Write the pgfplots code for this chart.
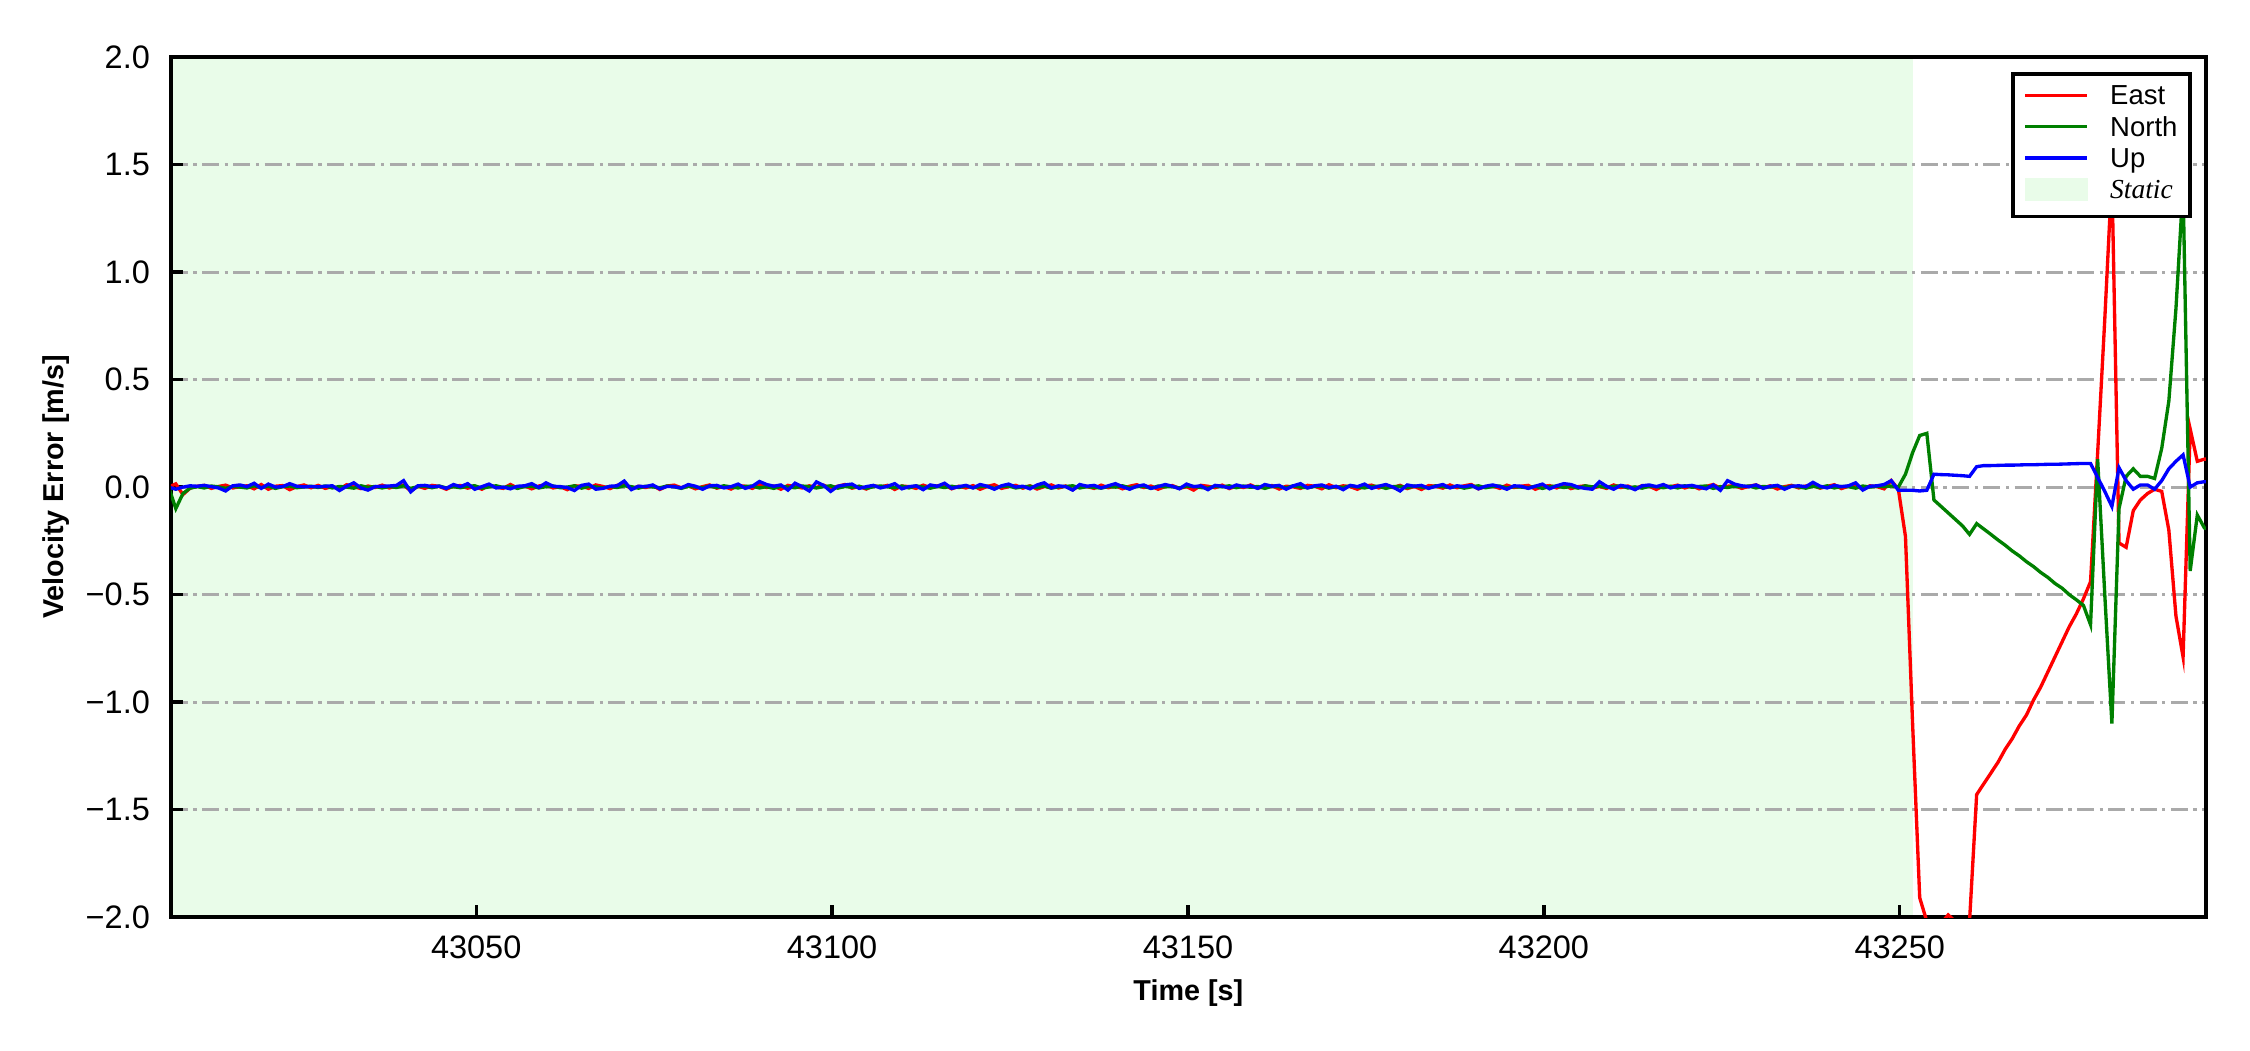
\documentclass[border=0pt]{standalone}
\usepackage{fontspec}
\setmainfont{Liberation Sans}
\newfontfamily\timesfont{Liberation Serif}
\usepackage{pgfplots}
\pgfplotsset{compat=1.18}
\usepackage{pgfplotstable}
\definecolor{staticgreen}{RGB}{233,252,233}
\definecolor{gridgray}{RGB}{170,170,170}
\definecolor{mplgreen}{RGB}{0,128,0}

\pgfplotstableread{
t E N U
43006.8 0.000 0.000 0.000
43007.8 0.015 -0.100 -0.010
43008.8 -0.035 -0.030 0.000
43009.8 -0.005 -0.005 0.006
43010.8 0.004 0.002 0.004
43011.8 0.008 -0.004 0.008
43012.8 -0.006 0.005 0.002
43013.8 0.003 0.001 -0.004
43014.8 0.009 -0.006 -0.018
43015.8 -0.004 0.003 0.006
43016.8 0.002 0.000 0.010
43017.8 0.006 -0.004 0.002
43018.8 -0.008 0.006 0.018
43019.8 0.012 -0.002 -0.006
43020.8 -0.010 0.004 0.014
43021.8 0.004 -0.006 0.000
43022.8 0.007 0.002 0.002
43023.8 -0.012 0.005 0.016
43024.8 0.002 -0.003 0.004
43025.8 0.010 0.001 0.001
43026.8 -0.003 0.004 0.003
43027.8 0.008 -0.002 0.001
43028.8 -0.006 0.005 0.004
43029.8 0.003 -0.004 0.006
43030.8 -0.009 0.003 -0.016
43031.8 0.011 0.000 0.004
43032.8 0.002 -0.005 0.020
43033.8 -0.007 0.006 -0.004
43034.8 0.005 -0.001 -0.014
43035.8 -0.002 0.003 0.002
43036.8 0.009 -0.004 0.004
43037.8 -0.004 0.003 0.005
43038.8 0.006 -0.002 0.008
43039.8 0.010 0.006 0.030
43040.8 -0.018 -0.006 -0.022
43041.8 0.004 0.002 0.006
43042.8 -0.006 0.004 0.008
43043.8 0.008 -0.003 0.002
43044.8 0.003 0.005 0.004
43045.8 -0.010 -0.004 -0.006
43046.8 0.005 0.002 0.012
43047.8 0.007 -0.003 0.002
43048.8 -0.005 0.004 0.016
43049.8 0.004 0.006 -0.010
43050.8 -0.010 -0.005 0.002
43051.8 0.009 0.001 0.014
43052.8 0.000 0.006 -0.004
43053.8 -0.006 -0.002 0.000
43054.8 0.012 0.004 -0.008
43055.8 -0.004 -0.006 0.004
43056.8 0.006 0.003 0.006
43057.8 -0.008 0.004 0.016
43058.8 0.005 -0.004 -0.002
43059.8 0.011 0.002 0.020
43060.8 -0.004 0.005 0.004
43061.8 0.002 -0.003 0.002
43062.8 -0.012 0.000 -0.002
43063.8 0.006 0.006 -0.016
43064.8 0.004 -0.005 0.008
43065.8 -0.006 0.003 0.014
43066.8 0.010 0.001 -0.010
43067.8 0.003 -0.004 -0.006
43068.8 -0.007 0.003 0.004
43069.8 0.008 -0.002 0.006
43070.8 0.014 0.006 0.028
43071.8 -0.009 0.002 -0.012
43072.8 0.004 -0.005 0.004
43073.8 -0.002 0.004 0.002
43074.8 0.007 0.001 0.010
43075.8 -0.011 -0.003 -0.008
43076.8 0.005 0.005 0.003
43077.8 0.009 0.002 0.002
43078.8 -0.003 -0.006 -0.004
43079.8 0.006 0.004 0.012
43080.8 -0.008 0.000 0.004
43081.8 0.002 -0.003 -0.010
43082.8 0.010 0.005 0.006
43083.8 -0.005 -0.002 0.008
43084.8 0.003 0.006 -0.004
43085.8 -0.009 0.001 0.002
43086.8 0.007 -0.004 0.014
43087.8 0.004 0.003 -0.006
43088.8 -0.006 0.005 0.004
43089.8 0.011 -0.004 0.026
43090.8 -0.002 0.002 0.012
43091.8 0.005 -0.006 0.004
43092.8 -0.010 0.004 0.010
43093.8 0.008 0.000 -0.014
43094.8 0.002 -0.003 0.018
43095.8 -0.004 0.005 0.002
43096.8 0.006 0.002 -0.018
43097.8 -0.002 -0.004 0.024
43098.8 0.009 0.002 0.008
43099.8 -0.007 0.006 -0.020
43100.8 0.004 -0.005 0.004
43101.8 0.012 0.003 0.010
43102.8 -0.005 -0.001 0.014
43103.8 0.003 0.004 -0.006
43104.8 -0.009 -0.006 0.002
43105.8 0.006 0.002 0.008
43106.8 0.001 0.005 -0.004
43107.8 0.008 0.001 0.004
43108.8 -0.011 -0.003 0.016
43109.8 0.005 0.005 -0.008
43110.8 0.002 -0.004 0.002
43111.8 -0.006 0.006 0.006
43112.8 0.009 0.000 -0.012
43113.8 -0.003 -0.005 0.010
43114.8 0.006 0.003 0.004
43115.8 0.010 -0.002 0.018
43116.8 -0.008 0.004 -0.006
43117.8 0.004 -0.002 0.002
43118.8 -0.004 0.006 0.008
43119.8 0.007 -0.003 -0.004
43120.8 -0.010 0.002 0.012
43121.8 0.003 0.004 0.004
43122.8 0.011 -0.006 -0.010
43123.8 -0.006 0.003 0.006
43124.8 0.002 0.005 0.014
43125.8 0.008 -0.004 0.000
43126.8 -0.005 0.001 0.004
43127.8 0.006 0.004 -0.008
43128.8 -0.009 -0.002 0.010
43129.8 0.002 0.005 0.020
43130.8 0.010 -0.005 -0.004
43131.8 -0.004 0.001 0.006
43132.8 0.005 0.003 0.002
43133.8 -0.012 0.006 -0.014
43134.8 0.007 -0.004 0.012
43135.8 0.003 0.002 0.004
43136.8 -0.006 -0.001 0.008
43137.8 0.009 -0.005 -0.004
43138.8 -0.003 0.003 0.006
43139.8 0.006 0.000 0.016
43140.8 -0.008 0.006 0.002
43141.8 0.004 -0.003 -0.010
43142.8 0.011 0.002 0.004
43143.8 -0.002 0.004 0.010
43144.8 0.005 -0.006 -0.006
43145.8 -0.010 0.005 0.002
43146.8 0.003 0.001 0.012
43147.8 0.007 0.002 0.004
43148.8 -0.006 -0.004 -0.008
43149.8 0.002 0.005 0.014
43150.8 -0.014 0.003 0.002
43151.8 0.008 -0.002 0.006
43152.8 0.004 -0.005 -0.012
43153.8 -0.003 0.004 0.008
43154.8 0.009 0.001 0.004
43155.8 -0.007 0.006 -0.004
43156.8 0.005 -0.003 0.010
43157.8 -0.002 0.005 0.002
43158.8 0.010 -0.001 0.006
43159.8 -0.005 0.003 -0.006
43160.8 0.003 -0.006 0.012
43161.8 0.007 0.004 0.004
43162.8 -0.009 0.002 0.008
43163.8 0.004 -0.004 -0.010
43164.8 0.001 0.006 0.006
43165.8 -0.006 0.000 0.016
43166.8 0.008 -0.003 -0.004
43167.8 0.004 0.003 0.006
43168.8 -0.008 0.005 0.010
43169.8 0.011 -0.005 -0.002
43170.8 -0.003 0.002 0.004
43171.8 0.006 -0.002 -0.012
43172.8 0.002 0.006 0.008
43173.8 -0.010 0.001 0.002
43174.8 0.005 -0.004 0.014
43175.8 0.009 0.003 -0.006
43176.8 -0.004 0.004 0.004
43177.8 0.006 -0.006 0.012
43178.8 -0.002 0.002 0.000
43179.8 0.008 0.004 -0.018
43180.8 -0.007 -0.003 0.010
43181.8 0.003 0.005 0.004
43182.8 -0.011 0.000 0.008
43183.8 0.007 -0.004 -0.006
43184.8 0.004 0.006 0.004
43185.8 -0.005 0.002 0.012
43186.8 0.010 -0.002 -0.004
43187.8 -0.003 0.004 0.006
43188.8 0.006 -0.005 0.002
43189.8 0.012 0.001 0.008
43190.8 -0.008 0.006 -0.008
43191.8 0.002 -0.003 0.004
43192.8 0.005 0.003 0.010
43193.8 -0.006 0.005 0.002
43194.8 0.009 -0.004 -0.010
43195.8 -0.002 0.002 0.006
43196.8 0.004 0.000 0.004
43197.8 0.008 -0.003 -0.006
43198.8 -0.010 0.004 0.004
43199.8 0.003 -0.006 0.014
43200.8 0.007 0.002 -0.008
43201.8 -0.004 0.005 0.006
43202.8 0.011 -0.002 0.016
43203.8 -0.007 0.003 0.012
43204.8 0.002 -0.005 0.000
43205.8 0.006 0.006 -0.006
43206.8 -0.005 0.001 -0.010
43207.8 0.003 0.005 0.025
43208.8 -0.006 -0.002 0.004
43209.8 0.010 0.003 -0.010
43210.8 -0.002 0.006 0.008
43211.8 0.005 -0.004 0.002
43212.8 -0.009 0.001 -0.012
43213.8 0.007 -0.005 0.006
43214.8 0.004 0.004 0.010
43215.8 -0.011 0.002 0.002
43216.8 0.006 -0.003 0.012
43217.8 0.002 0.004 -0.004
43218.8 0.009 -0.004 0.006
43219.8 -0.004 0.006 0.004
43220.8 0.006 -0.001 0.008
43221.8 -0.008 0.003 0.000
43222.8 0.003 0.005 -0.008
43223.8 0.012 -0.006 0.010
43224.8 -0.005 0.002 -0.015
43225.8 0.004 -0.002 0.030
43226.8 0.007 0.004 0.014
43227.8 -0.006 0.002 0.006
43228.8 0.004 0.005 0.002
43229.8 0.010 -0.004 0.010
43230.8 -0.003 0.003 -0.006
43231.8 0.006 0.000 0.004
43232.8 -0.009 0.006 0.008
43233.8 0.002 -0.003 -0.010
43234.8 0.008 0.004 0.004
43235.8 -0.004 0.001 0.006
43236.8 0.005 -0.005 0.002
43237.8 0.007 0.004 0.022
43238.8 -0.005 -0.002 0.004
43239.8 0.003 0.006 -0.004
43240.8 0.011 -0.004 0.008
43241.8 -0.007 0.003 0.002
43242.8 0.004 0.002 0.006
43243.8 0.009 -0.005 0.020
43244.8 -0.010 0.005 -0.014
43245.8 0.006 0.000 0.004
43246.8 0.002 0.004 0.006
43247.8 -0.008 0.002 0.012
43248.8 0.030 0.005 0.030
43249.8 -0.010 0.000 -0.015
43250.8 -0.23 0.06 -0.015
43251.8 -1.10 0.16 -0.015
43252.8 -1.91 0.24 -0.018
43253.8 -2.02 0.25 -0.015
43254.8 -2.04 -0.06 0.060
43255.8 -2.03 -0.09 0.058
43256.8 -1.99 -0.12 0.057
43257.8 -2.02 -0.15 0.055
43258.8 -2.05 -0.18 0.053
43259.8 -2.02 -0.22 0.050
43260.8 -1.43 -0.17 0.095
43261.8 -1.38 -0.195 0.100
43262.8 -1.33 -0.22 0.100
43263.8 -1.28 -0.246 0.101
43264.8 -1.22 -0.27 0.102
43265.8 -1.17 -0.297 0.102
43266.8 -1.11 -0.32 0.103
43267.8 -1.06 -0.347 0.104
43268.8 -0.99 -0.37 0.104
43269.8 -0.93 -0.397 0.105
43270.8 -0.86 -0.42 0.106
43271.8 -0.79 -0.448 0.106
43272.8 -0.72 -0.47 0.107
43273.8 -0.65 -0.50 0.108
43274.8 -0.59 -0.524 0.109
43275.8 -0.52 -0.55 0.110
43276.8 -0.44 -0.64 0.110
43277.8 0.16 0.13 0.045
43278.8 0.78 -0.50 -0.020
43279.8 1.45 -1.10 -0.090
43280.8 -0.26 -0.10 0.090
43281.8 -0.28 0.05 0.030
43282.8 -0.11 0.085 -0.010
43283.8 -0.06 0.05 0.010
43284.8 -0.03 0.05 0.010
43285.8 -0.01 0.04 -0.010
43286.8 -0.02 0.18 0.030
43287.8 -0.20 0.40 0.085
43288.8 -0.60 0.83 0.120
43289.8 -0.79 1.40 0.150
43290.8 0.27 -0.39 0.000
43291.8 0.12 -0.13 0.020
43292.8 0.13 -0.19 0.025
43293.8 0.13 -0.20 0.025
}\veldata

\begin{document}
\begin{tikzpicture}
\begin{axis}[
  set layers,
  at={(0,0)}, anchor=south west,
  scale only axis, width=488.4pt, height=206.4pt,
  xmin=43007.1, xmax=43293.0, ymin=-2, ymax=2,
  scaled x ticks=false, scaled y ticks=false,
  xtick={43050,43100,43150,43200,43250},
  xticklabels={43050,43100,43150,43200,43250},
  ytick={-2,-1.5,-1,-0.5,0,0.5,1,1.5,2},
  yticklabels={−2.0,−1.5,−1.0,−0.5,0.0,0.5,1.0,1.5,2.0},
  tick align=inside, tick pos=left,
  major tick length=3pt,
  every tick/.style={black, line width=0.8pt},
  axis line style={line width=0.9pt},
  ymajorgrids,
  major grid style={gridgray, line width=0.7pt, dash pattern=on 4.1pt off 1.3pt on 0.8pt off 1.3pt},
  tick label style={font=\fontsize{7.8}{9}\selectfont},
  xticklabel style={yshift=-1pt},
  yticklabel style={xshift=-1.5pt},
  label style={font=\fontsize{6.9}{8}\selectfont\bfseries},
  xlabel={Time [s]},
  ylabel={Velocity Error [m/s]},
  xlabel style={at={(axis description cs:0.5,-0.0965)}, anchor=base},
  ylabel style={at={(axis description cs:-0.0565,0.5)}, anchor=center},
  legend image code/.code={\draw[#1] (0pt,0pt) -- (14.9pt,0pt);},
  legend style={at={(rel axis cs:0.9931,0.9826)}, anchor=north east,
    draw=black, line width=0.9pt, fill=white,
    font=\fontsize{6.6}{7.4}\selectfont,
    inner xsep=2.6pt, inner ysep=1.4pt, row sep=0.13pt,
    cells={anchor=west},
    nodes={inner sep=0.4pt, text height=5.6pt, text depth=1.0pt},
    /tikz/every odd column/.append style={column sep=4.7pt}},
]
\addplot[fill=staticgreen, draw=none, forget plot, on layer=axis background]
  coordinates {(43007.1,-2) (43251.8,-2) (43251.8,2) (43007.1,2)};
\addplot[red, line width=0.8pt] table[x=t, y=E] {\veldata};
\addlegendentry{East}
\addplot[mplgreen, line width=0.8pt] table[x=t, y=N] {\veldata};
\addlegendentry{North}
\addplot[blue, line width=0.8pt] table[x=t, y=U] {\veldata};
\addlegendentry{Up}
\addlegendimage{legend image code/.code={\fill[staticgreen] (0.5pt,-1.6pt) rectangle (14.7pt,3.0pt);}}
\addlegendentry[text depth=2.4pt]{\timesfont\itshape Static}
\end{axis}
\path[use as bounding box] (-41.0pt,-31.9pt) rectangle (499.0pt,220.1pt);
\end{tikzpicture}
\end{document}
